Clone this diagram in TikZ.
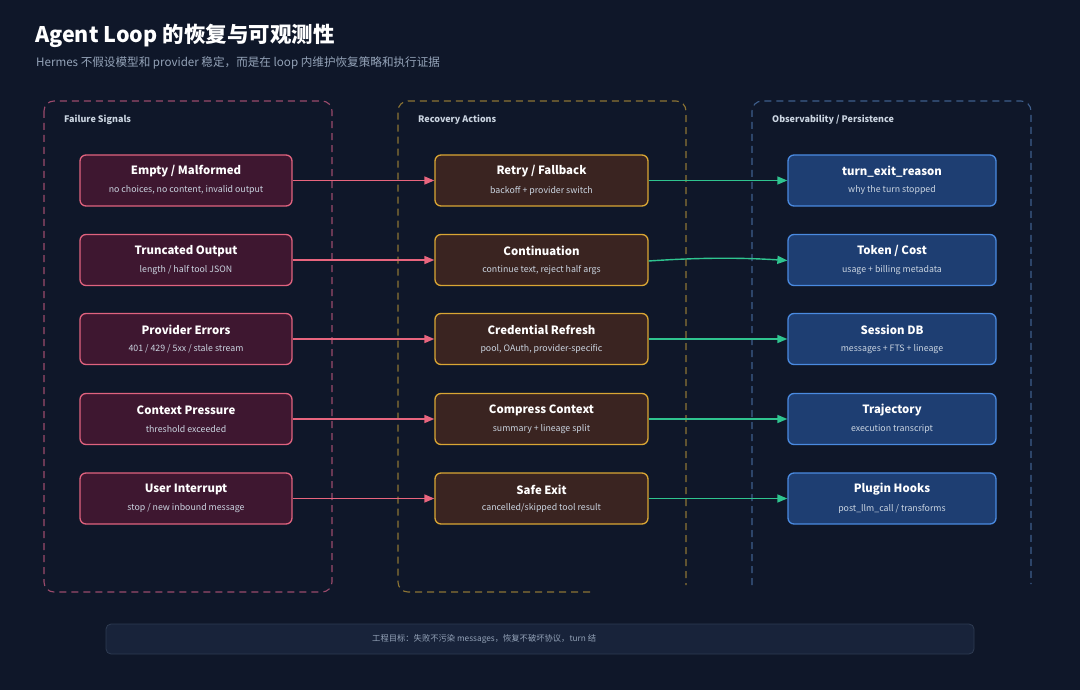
\documentclass[tikz,border=0pt]{standalone}
\usepackage{fontspec}
\setmainfont{Noto Sans CJK SC}
\usetikzlibrary{arrows.meta}
\definecolor{bg}{HTML}{0F1729}
\definecolor{txtgray}{HTML}{94A3B8}
\definecolor{lbl}{HTML}{CBD5E1}
\definecolor{pinkdash}{HTML}{9A4A6C}
\definecolor{golddash}{HTML}{8C7434}
\definecolor{bluedash}{HTML}{3E5E8C}
\definecolor{redfill}{HTML}{3E1730}
\definecolor{redline}{HTML}{E0637F}
\definecolor{brownfill}{HTML}{3A2421}
\definecolor{goldline}{HTML}{D9A634}
\definecolor{bluefill}{HTML}{1E3E72}
\definecolor{blueline}{HTML}{4A8AE0}
\definecolor{pinkarrow}{HTML}{E8657E}
\definecolor{greenarrow}{HTML}{2FC48F}
\definecolor{footfill}{HTML}{18233A}
\definecolor{footline}{HTML}{2E3B52}
\tikzset{
  boxbase/.style={rectangle, rounded corners=6pt, minimum height=51pt, line width=1.3pt, inner sep=0pt},
  failbox/.style={boxbase, minimum width=212pt, fill=redfill, draw=redline},
  recbox/.style={boxbase, minimum width=213pt, fill=brownfill, draw=goldline},
  obsbox/.style={boxbase, minimum width=208pt, fill=bluefill, draw=blueline},
  ttl/.style={text=white, font=\fontsize{11.4}{13}\selectfont\bfseries, inner sep=0pt},
  subt/.style={text=lbl, font=\fontsize{8.8}{10}\selectfont, inner sep=0pt},
  grp/.style={dashed, dash pattern=on 7pt off 5pt, line width=1.1pt, rounded corners=10pt},
  grplbl/.style={text=lbl, font=\fontsize{9}{11}\selectfont\bfseries, inner sep=0pt, anchor=west},
  pinkarr/.style={draw=pinkarrow, line width=1.4pt, -{Triangle[length=10pt,width=8pt]}},
  greenarr/.style={draw=greenarrow, line width=1.4pt, -{Triangle[length=10pt,width=8pt]}},
}
\newcommand\mkbox[6]{%
  \node[#4] (#1) at (#2,#3) {};
  \node[ttl] (#1t) at ([yshift=9pt]#1.center) {#5};
  \node[subt] (#1s) at ([yshift=-10pt]#1.center) {#6};
}
\begin{document}
\begin{tikzpicture}[x=1pt,y=-1pt]
\fill[bg] (0,0) rectangle (1080,690);
\useasboundingbox (0,0) rectangle (1080,690);

% title
\node[anchor=west, text=white, font=\fontsize{21.5}{24}\selectfont\bfseries, inner sep=0pt] (title) at (35,36) {Agent Loop 的恢复与可观测性};
\node[anchor=west, text=txtgray, font=\fontsize{11.6}{13}\selectfont, inner sep=0pt] (subtitle) at (36,63) {Hermes 不假设模型和 provider 稳定，而是在 loop 内维护恢复策略和执行证据};

% group containers
\draw[grp, draw=pinkdash] (44,101) rectangle (332,592);
\draw[grp, draw=golddash] (590,592) -- (398,592) -- (398,101) -- (686,101) -- (686,585);
\draw[grp, draw=bluedash] (752,585) -- (752,101) -- (1031,101) -- (1031,584);

\node[grplbl] (g1) at (64,120) {Failure Signals};
\node[grplbl] (g2) at (418,120) {Recovery Actions};
\node[grplbl] (g3) at (772,120) {Observability / Persistence};

% column 1
\mkbox{f1}{186}{180.5}{failbox}{Empty / Malformed}{no choices, no content, invalid output}
\mkbox{f2}{186}{260}{failbox}{Truncated Output}{length / half tool JSON}
\mkbox{f3}{186}{339}{failbox}{Provider Errors}{401 / 429 / 5xx / stale stream}
\mkbox{f4}{186}{419}{failbox}{Context Pressure}{threshold exceeded}
\mkbox{f5}{186}{498.5}{failbox}{User Interrupt}{stop / new inbound message}

% column 2
\mkbox{r1}{541.5}{180.5}{recbox}{Retry / Fallback}{backoff + provider switch}
\mkbox{r2}{541.5}{260}{recbox}{Continuation}{continue text, reject half args}
\mkbox{r3}{541.5}{339}{recbox}{Credential Refresh}{pool, OAuth, provider-specific}
\mkbox{r4}{541.5}{419}{recbox}{Compress Context}{summary + lineage split}
\mkbox{r5}{541.5}{498.5}{recbox}{Safe Exit}{cancelled/skipped tool result}

% column 3
\mkbox{o1}{892}{180.5}{obsbox}{turn\_exit\_reason}{why the turn stopped}
\mkbox{o2}{892}{260}{obsbox}{Token / Cost}{usage + billing metadata}
\mkbox{o3}{892}{339}{obsbox}{Session DB}{messages + FTS + lineage}
\mkbox{o4}{892}{419}{obsbox}{Trajectory}{execution transcript}
\mkbox{o5}{892}{498.5}{obsbox}{Plugin Hooks}{post\_llm\_call / transforms}

% arrows
\foreach \i in {1,...,5} {
  \draw[pinkarr] (f\i.east) -- (r\i.west);
}
\draw[greenarr] (r1.east) -- (o1.west);
\draw[greenarr] ([yshift=-1pt]r2.east) .. controls (700,257.5) and (740,257.5) .. ([yshift=-0.5pt]o2.west);
\draw[greenarr] (r3.east) -- (o3.west);
\draw[greenarr] (r4.east) -- (o4.west);
\draw[greenarr] (r5.east) -- (o5.west);

% footer
\draw[fill=footfill, draw=footline, line width=0.8pt, rounded corners=5pt] (106,624) rectangle (974,654);
\node[anchor=west, text=txtgray, font=\fontsize{8.3}{10}\selectfont, inner sep=0pt] (foot) at (372,639) {工程目标：失败不污染 messages，恢复不破坏协议，turn 结};
\end{tikzpicture}
\end{document}
